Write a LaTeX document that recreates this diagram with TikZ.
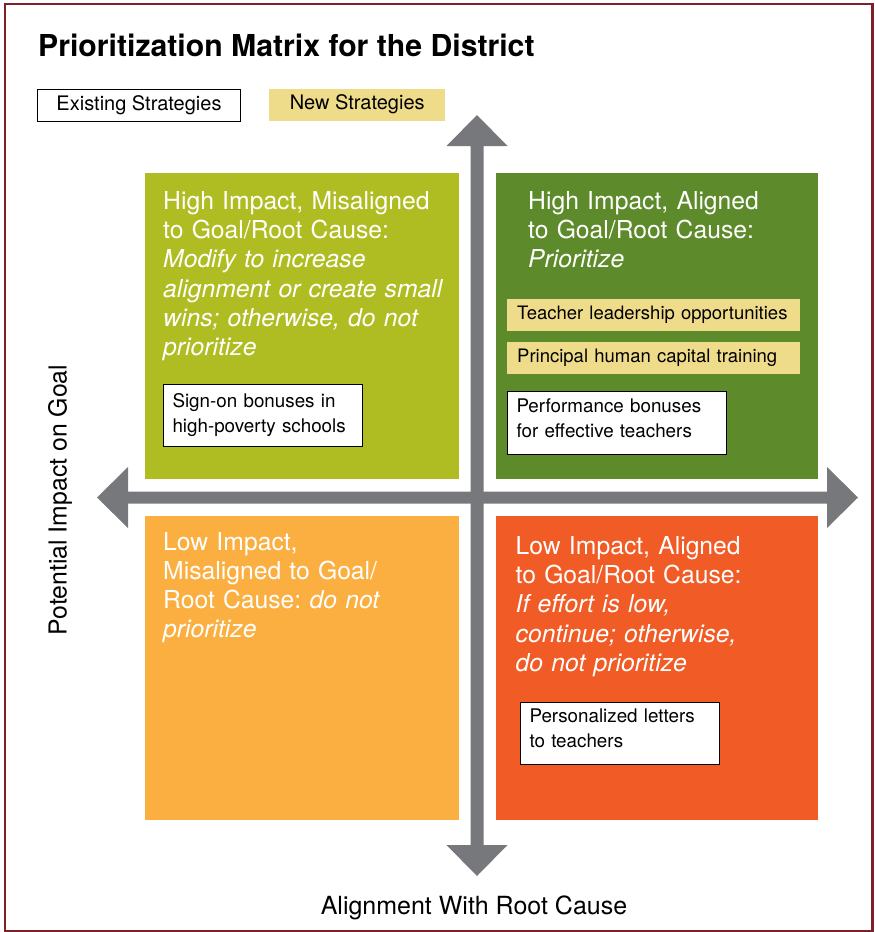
\documentclass[tikz,border=0pt]{standalone}
\usepackage{fontspec}
\setmainfont{TeX Gyre Heros}
\usepackage{tikz}
\usetikzlibrary{shapes,arrows}
\frenchspacing
\definecolor{framered}{HTML}{7D2027}
\definecolor{axisgray}{HTML}{77787B}
\definecolor{newyellow}{HTML}{EFDC8B}
\definecolor{himis}{HTML}{AFBD22}
\definecolor{hial}{HTML}{5D8A2A}
\definecolor{lomis}{HTML}{FBAF41}
\definecolor{loal}{HTML}{F15B25}
\tikzstyle{quadtext} = [anchor=base west, inner sep=0pt, text=white, align=left, text width=300pt, font={\fontsize{24.7}{29.2}\selectfont}]
\tikzstyle{oldbox} = [draw=black, line width=1pt, fill=white, anchor=north west, align=left, inner xsep=9pt, inner ysep=0pt, font={\fontsize{18.8}{25}\selectfont}]
\tikzstyle{newbox} = [fill=newyellow, anchor=north west, align=left, inner xsep=10pt, inner ysep=0pt, font={\fontsize{18.5}{25}\selectfont}]

\begin{document}
\begin{tikzpicture}[x=1pt,y=-1pt]
	\useasboundingbox (0,0) rectangle (875,932);
	\draw[framered, line width=2.8pt] (5,4) rectangle (872.5,931);
	\node[anchor=base west, inner sep=0pt, font={\fontsize{30.2}{32}\selectfont\bfseries}] (titleText) at (38,56.5) {Prioritization Matrix for the District};
	% legend
	\node[oldbox, align=center, minimum width=203pt, minimum height=32pt, font={\fontsize{20}{22}\selectfont}] (legendOld) at (37,88.5) {Existing Strategies};
	\node[newbox, align=center, minimum width=176pt, minimum height=32pt, font={\fontsize{20}{22}\selectfont}] (legendNew) at (269,88.5) {New Strategies};
	% quadrants
	\fill[himis] (145,173) rectangle (459,479);
	\fill[hial] (496,173) rectangle (818,479);
	\fill[lomis] (145,516) rectangle (459,820);
	\fill[loal] (496,516) rectangle (818,820);
	% axes
	\fill[axisgray] (477,115) -- (507.5,146) -- (483.5,146) -- (483.5,845) -- (507.5,845) -- (477,876) -- (446.5,845) -- (470.5,845) -- (470.5,146) -- (446.5,146) -- cycle;
	\fill[axisgray] (97,497.5) -- (128,467) -- (128,491.5) -- (827,491.5) -- (827,467) -- (858,497.5) -- (827,528) -- (827,503.5) -- (128,503.5) -- (128,528) -- cycle;
	\node[quadtext] (hiMisText) at (163,209.5) {High Impact, Misaligned\\to Goal/Root Cause:\\\itshape Modify to increase\\\itshape alignment or create small\\\itshape wins; otherwise, do not\\\itshape prioritize};
	\node[quadtext] (hiAlText) at (528,209.5) {High Impact, Aligned\\to Goal/Root Cause:\\\itshape Prioritize};
	\node[quadtext] (loMisText) at (163,550) {Low Impact,\\Misaligned to Goal/\\Root Cause: \textit{do not}\\\itshape prioritize};
	\node[quadtext] (loAlText) at (515.5,554.5) {Low Impact, Aligned\\to Goal/Root Cause:\\\itshape If effort is low,\\\itshape continue; otherwise,\\\itshape do not prioritize};
	% strategies
	\node[oldbox, text width=181pt, minimum height=62pt] (signOn) at (163,384) {Sign-on bonuses in\\high-poverty schools};
	\node[newbox, text width=273pt, minimum height=32pt] (teacherLead) at (507,299) {Teacher leadership opportunities};
	\node[newbox, text width=273pt, minimum height=32pt] (principalCap) at (507,342) {Principal human capital training};
	\node[oldbox, text width=201pt, minimum height=63pt, text depth=35pt] (perfBonus) at (507,391) {Performance bonuses\\for effective teachers};
	\node[oldbox, text width=181pt, minimum height=62pt, text depth=35pt] (persLetters) at (520,702) {Personalized letters\\to teachers};
	% axis labels
	\node[rotate=90, font={\fontsize{24.8}{28}\selectfont}] (yLabel) at (60,500) {Potential Impact on Goal};
	\node[font={\fontsize{25}{28}\selectfont}] (xLabel) at (474,908) {Alignment With Root Cause};
\end{tikzpicture}
\end{document}
